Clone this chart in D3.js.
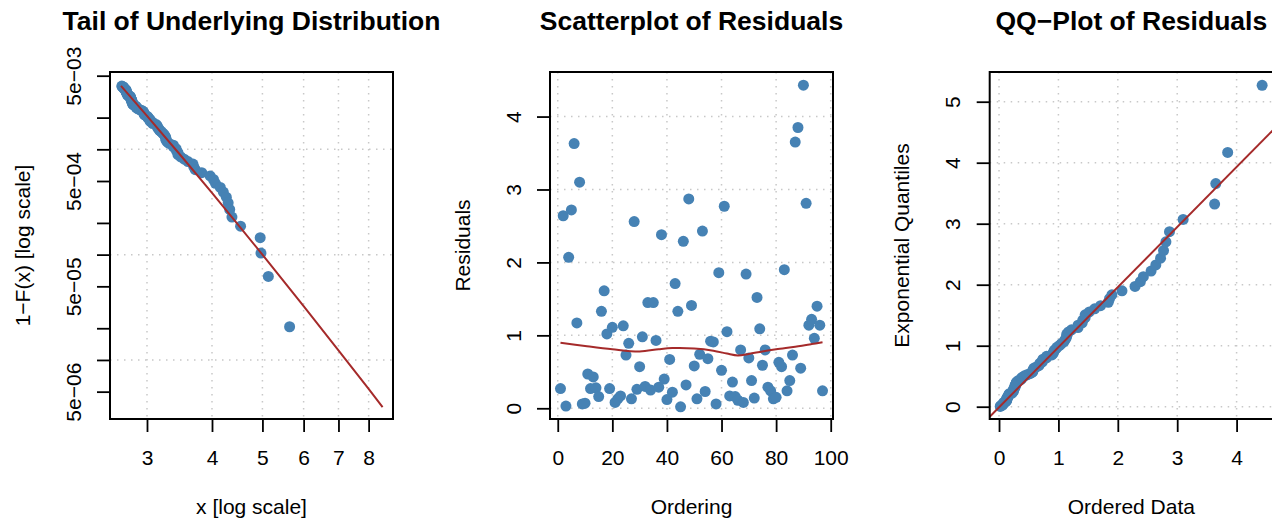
<!DOCTYPE html>
<html><head><meta charset="utf-8">
<script src="https://cdn.jsdelivr.net/npm/d3@7"></script>
<style>
html,body{margin:0;padding:0;background:#fff;}
svg{display:block;font-family:"Liberation Sans",Arial,Helvetica,sans-serif;}
</style></head><body>
<svg id="chart" width="1272" height="520"></svg>
<script>
// ---------------- data ----------------
// Residuals in their original ordering (index 1..97)
const residuals = [
 0.27,2.64,0.03,2.07,2.72,3.63,1.17,3.10,0.06,0.07,
 0.47,0.27,0.43,0.28,0.16,1.33,1.61,1.02,0.27,1.11,
 0.08,0.13,0.17,1.13,0.73,0.89,0.13,2.56,0.26,0.57,
 0.98,0.30,1.45,0.25,1.45,0.93,0.29,2.38,0.40,0.12,
 0.67,0.22,1.71,1.33,0.02,2.29,0.32,2.87,1.41,0.58,
 0.13,0.74,2.43,0.23,0.68,0.92,0.91,0.06,1.86,0.52,
 2.77,1.05,0.17,0.36,0.16,0.11,0.80,0.08,1.84,0.69,
 0.38,0.14,1.52,1.09,0.59,0.80,0.29,0.24,0.13,0.15,
 0.63,0.57,1.90,0.24,0.38,0.73,3.65,3.85,0.55,4.43,
 2.81,1.14,1.22,0.96,1.40,1.14,0.24
];
// Exceedances above the threshold (sorted)
const tailExceedances = [
 2.684,2.688,2.703,2.703,2.707,2.712,2.712,2.727,2.732,2.736,
 2.736,2.736,2.736,2.741,2.746,2.751,2.751,2.756,2.756,2.780,
 2.785,2.790,2.790,2.790,2.795,2.800,2.805,2.805,2.805,2.810,
 2.815,2.815,2.820,2.830,2.850,2.860,2.860,2.870,2.885,2.905,
 2.931,2.946,2.956,2.956,2.961,2.967,2.987,3.008,3.014,3.019,
 3.040,3.040,3.045,3.077,3.077,3.125,3.136,3.142,3.147,3.164,
 3.175,3.197,3.213,3.235,3.247,3.258,3.263,3.263,3.280,3.309,
 3.372,3.372,3.412,3.418,3.441,3.441,3.483,3.537,3.597,3.677,
 3.690,3.715,3.823,3.967,4.027,4.061,4.150,4.206,4.262,4.297,
 4.326,4.369,4.539,4.951,4.968,5.133,5.639
];
const tailProbAtThreshold = 4.01e-3;
// fitted GPD tail curve
const tailFitX = [2.674, 3, 3.5, 4, 4.5, 5, 6, 7, 8, 8.51];
const tailFitY = [4.0e-3, 2.08e-3, 8.50e-4, 3.85e-4, 1.90e-4, 9.99e-5, 3.24e-5, 1.233e-5, 5.30e-6, 3.57e-6];
// smoothed residual trend
const loessX = [1, 10, 20, 30, 37, 42, 50, 57, 62, 66, 70, 75, 80, 87, 93, 97];
const loessY = [0.90, 0.855, 0.81, 0.78, 0.81, 0.825, 0.82, 0.79, 0.75, 0.725, 0.745, 0.78, 0.81, 0.845, 0.88, 0.905];
// QQ reference line
const qqIntercept = -0.01, qqSlope = 0.985;

// ticks
const tailXTicks = [3, 4, 5, 6, 7, 8];
const tailYTicks = [5e-3, 2e-3, 1e-3, 5e-4, 2e-4, 1e-4, 5e-5, 2e-5, 1e-5, 5e-6];
const tailYTickLabels = ["5e\u221203", "", "", "5e\u221204", "", "", "5e\u221205", "", "", "5e\u221206"];
const tailYGrid = [1e-3, 1e-4, 1e-5];
const residXTicks = [0, 20, 40, 60, 80, 100];
const residYTicks = [0, 1, 2, 3, 4];
const qqXTicks = [0, 1, 2, 3, 4, 5];
const qqYTicks = [0, 1, 2, 3, 4, 5];

const titles = ["Tail of Underlying Distribution", "Scatterplot of Residuals", "QQ\u2212Plot of Residuals"];
const xLabels = ["x [log scale]", "Ordering", "Ordered Data"];
const yLabels = ["1\u2212F(x) [log scale]", "Residuals", "Exponential Quantiles"];

// ---------------- derived (plotting positions) ----------------
const n = residuals.length;
const ppoints = d3.range(1, n + 1).map(i => (i - 0.5) / n);
const tailPoints = tailExceedances.map((x, i) => ({x, y: tailProbAtThreshold * (1 - ppoints[i])}));
const residPoints = residuals.map((v, i) => ({x: i + 1, y: v}));
const sortedResid = residuals.slice().sort(d3.ascending);
const qqPoints = sortedResid.map((v, i) => ({x: v, y: -Math.log(1 - ppoints[i])}));

// ---------------- drawing ----------------
const svg = d3.select("#chart");
const FS = 21, TFS = 26.5;
const BLUE = "#4682B4", RED = "#A52A2A", GRID = "#c8c8c8";
const TOP = 72, BOTTOM = 419;

function panel(o) {
  const g = svg.append("g");
  const [x0, x1] = o.xs.range();
  const id = "clip" + o.key;
  svg.append("clipPath").attr("id", id).append("rect")
    .attr("x", x0).attr("y", TOP).attr("width", x1 - x0).attr("height", BOTTOM - TOP);

  // grid
  const grid = g.append("g").attr("stroke", GRID).attr("stroke-width", 1.5)
    .attr("stroke-dasharray", "1.5,5.5").attr("clip-path", `url(#${id})`);
  grid.selectAll(".gx").data(o.gridX).join("line")
    .attr("x1", d => o.xs(d)).attr("x2", d => o.xs(d)).attr("y1", TOP).attr("y2", BOTTOM);
  grid.selectAll(".gy").data(o.gridY).join("line").attr("class", "gy")
    .attr("y1", d => o.ys(d)).attr("y2", d => o.ys(d)).attr("x1", x0).attr("x2", x1);

  // points
  g.append("g").attr("clip-path", `url(#${id})`).selectAll("circle").data(o.points).join("circle")
    .attr("cx", d => o.xs(d.x)).attr("cy", d => o.ys(d.y)).attr("r", 5.5).attr("fill", BLUE);

  // line
  g.append("path").attr("clip-path", `url(#${id})`).datum(o.line)
    .attr("fill", "none").attr("stroke", RED).attr("stroke-width", 2)
    .attr("d", d3.line().x(d => o.xs(d[0])).y(d => o.ys(d[1])).curve(o.curve || d3.curveLinear));

  // axes
  const ax = g.append("g").attr("transform", `translate(0,${BOTTOM})`)
    .call(d3.axisBottom(o.xs).tickValues(o.xTicks).tickSize(13).tickFormat(o.xFmt || (d => String(d))));
  const ay = g.append("g").attr("transform", `translate(${x0},0)`)
    .call(d3.axisLeft(o.ys).tickValues(o.yTicks).tickSize(13).tickFormat((d, i) => o.yFmt ? o.yFmt[i] : String(d)));
  [ax, ay].forEach(a => {
    a.select(".domain").remove();
    a.selectAll(".tick line").attr("stroke", "#000").attr("stroke-width", 1.8);
    a.selectAll("text").attr("font-size", FS).attr("fill", "#000").attr("font-family", null);
  });
  ax.selectAll("text").attr("y", 46).attr("dy", 0);
  ay.selectAll("text").attr("x", 0).attr("y", 0).attr("dy", 0).attr("text-anchor", "middle")
    .attr("transform", "translate(-29.5,0) rotate(-90)");

  // box
  g.append("rect").attr("x", x0).attr("y", TOP).attr("width", x1 - x0).attr("height", BOTTOM - TOP)
    .attr("fill", "none").attr("stroke", "#000").attr("stroke-width", 2);

  // texts
  const cx = (x0 + x1) / 2;
  g.append("text").attr("x", cx).attr("y", 30).attr("text-anchor", "middle")
    .attr("font-size", TFS).attr("font-weight", "bold").text(o.title);
  g.append("text").attr("x", cx).attr("y", 514).attr("text-anchor", "middle")
    .attr("font-size", FS).text(o.xLabel);
  g.append("text").attr("text-anchor", "middle").attr("font-size", FS)
    .attr("transform", `translate(${x0 - 80.5},${(TOP + BOTTOM) / 2}) rotate(-90)`).text(o.yLabel);
}

// Panel 1: tail plot (log-log)
const xs1 = d3.scaleLog().domain([2.547, 8.911]).range([110, 393]);
const ys1 = d3.scaleLog().domain([2.75e-6, 5.42e-3]).range([BOTTOM, TOP]);
panel({
  key: 1, xs: xs1, ys: ys1, points: tailPoints,
  line: tailFitX.map((x, i) => [x, tailFitY[i]]), curve: d3.curveMonotoneX,
  xTicks: tailXTicks, yTicks: tailYTicks, yFmt: tailYTickLabels,
  gridX: tailXTicks, gridY: tailYGrid,
  title: titles[0], xLabel: xLabels[0], yLabel: yLabels[0]
});

// Panel 2: residual scatter
const xs2 = d3.scaleLinear().domain([-2.84, 100.84]).range([550, 833]);
const ys2 = d3.scaleLinear().domain([-0.147, 4.611]).range([BOTTOM, TOP]);
panel({
  key: 2, xs: xs2, ys: ys2, points: residPoints,
  line: loessX.map((x, i) => [x, loessY[i]]), curve: d3.curveCatmullRom,
  xTicks: residXTicks, yTicks: residYTicks,
  gridX: residXTicks, gridY: residYTicks,
  title: titles[1], xLabel: xLabels[1], yLabel: yLabels[1]
});

// Panel 3: QQ plot
const xs3 = d3.scaleLinear().domain([-0.157, 4.613]).range([989.7, 1273]);
const ys3 = d3.scaleLinear().domain([-0.2016, 5.487]).range([BOTTOM, TOP]);
const qqLineX = xs3.domain();
panel({
  key: 3, xs: xs3, ys: ys3, points: qqPoints,
  line: qqLineX.map(x => [x, qqIntercept + qqSlope * x]),
  xTicks: qqXTicks.filter(d => d <= 4.613), yTicks: qqYTicks,
  gridX: qqXTicks, gridY: qqYTicks,
  title: titles[2], xLabel: xLabels[2], yLabel: yLabels[2]
});
</script></body></html>
